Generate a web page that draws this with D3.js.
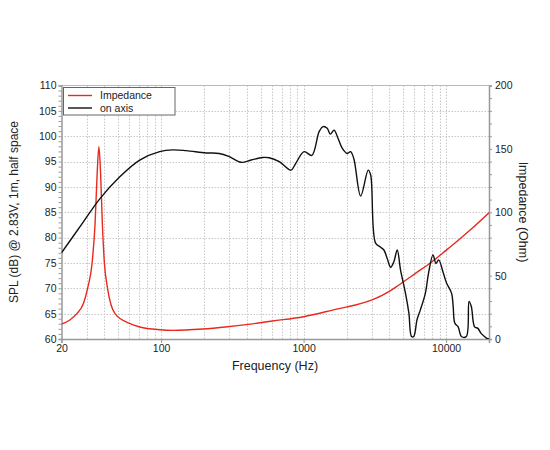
<!DOCTYPE html>
<html>
<head>
<meta charset="utf-8">
<script src="https://cdn.jsdelivr.net/npm/d3@7"></script>
<style>
  body { margin: 0; background: #fff; }
  text { font-family: "Liberation Sans", Arial, sans-serif; fill: #222; }
</style>
</head>
<body>
<div id="chart"></div>
<script>
// SPL on axis (Hz, dB)
var splFreq = [20, 28, 37, 51.3, 70.8, 97.7, 121, 150, 207, 256, 301, 364, 428, 515, 573, 675, 815, 881,
  1009, 1142, 1285, 1370, 1465, 1540, 1637, 1726, 1870, 2024, 2135, 2250, 2514, 2840, 2955, 3200, 3470, 3660, 3860,
  4080, 4300, 4540, 4790, 5190, 5480, 5720, 5930, 6250, 6590, 7150, 7530, 8090, 8490, 8870, 9560, 10090, 10930,
  11210, 11520, 12150, 12800, 13870, 14490, 15030, 15850, 16710, 17600, 18550, 19300, 20000];
var splDb = [77.0, 82.8, 87.6, 92.0, 95.3, 96.95, 97.3, 97.15, 96.7, 96.6, 95.96, 94.85, 95.3, 95.8, 95.75, 94.97, 93.3, 94.65,
  96.95, 96.2, 100.9, 101.9, 101.55, 100.4, 101.2, 99.9, 97.6, 96.6, 96.95, 95.6, 88.2, 93.3, 92.35, 78.9, 78.1, 77.55, 75.9,
  74.15, 75.25, 77.55, 73.6, 69.0, 65.1, 60.5, 60.5, 63.8, 65.7, 69.0, 73.0, 76.6, 74.9, 75.6, 73.0, 71.0, 69.0,
  66.4, 63.1, 62.4, 60.5, 60.5, 67.4, 66.4, 62.4, 62.1, 61.1, 60.5, 60.1, 60.0];

// Impedance (Hz, Ohm)
var impFreq = [20, 22.9, 25.6, 28.5, 30.5, 32.8, 34.4, 35.6, 36.6, 37.6, 38.7, 40, 42.1, 47.5, 60, 70.8, 98, 121, 196, 293, 394, 605,
  1000, 1773, 2310, 3028, 3966, 4660, 6096, 7962, 9886, 12240, 15160, 20000];
var impOhm = [11.8, 15.0, 20.0, 28, 40, 60, 91, 131, 151.7, 131, 91, 60, 40, 20, 12.3, 9.5, 7.3, 6.8, 7.9, 9.7, 11.3, 14.2,
  17.6, 24.0, 26.8, 30.8, 37.3, 42.6, 51.8, 61.0, 69.5, 78.1, 87.1, 99.6];

var xTickLabels = [20, 100, 1000, 10000];
var leftTicks = [60, 65, 70, 75, 80, 85, 90, 95, 100, 105, 110];
var rightTicks = [0, 50, 100, 150, 200];
var legendNames = ["Impedance", "on axis"];

var width = 550, height = 450;
var plotLeft = 61.5, plotRight = 489, plotTop = 85.5, plotBottom = 339;

var svg = d3.select("#chart").append("svg")
    .attr("width", width)
    .attr("height", height)
    .style("background", "#fff");

var x = d3.scaleLog().domain([20, 20000]).range([plotLeft, plotRight]);
var y = d3.scaleLinear().domain([60, 110]).range([plotBottom, plotTop]);
var yImp = d3.scaleLinear().domain([0, 200]).range([plotBottom, plotTop]);

// grid lines at every 1..9 x decade
var gridFreqs = [];
[10, 100, 1000, 10000].forEach(function(d) {
    for (var m = 1; m < 10; m++) {
        var f = d * m;
        if (f > 20 && f < 20000) gridFreqs.push(f);
    }
});

var grid = svg.append("g").attr("stroke", "#c8c8c8").attr("stroke-dasharray", "1.5,1.5").attr("stroke-width", 1);
grid.selectAll("line.v").data(gridFreqs).enter().append("line")
    .attr("x1", d => Math.round(x(d)) + 0.5).attr("x2", d => Math.round(x(d)) + 0.5)
    .attr("y1", plotTop).attr("y2", plotBottom);
grid.selectAll("line.h").data(d3.range(65, 110, 5)).enter().append("line")
    .attr("x1", plotLeft).attr("x2", plotRight)
    .attr("y1", d => Math.round(y(d)) + 0.5).attr("y2", d => Math.round(y(d)) + 0.5);

// frame top
svg.append("line").attr("x1", plotLeft).attr("x2", plotRight).attr("y1", plotTop).attr("y2", plotTop)
    .attr("stroke", "#bbb");

// axes
var leftAxis = d3.axisLeft(y).tickValues(d3.range(60, 111, 1)).tickSize(3)
    .tickFormat(d => leftTicks.indexOf(d) >= 0 ? d : "");
var gl = svg.append("g").attr("transform", "translate(" + plotLeft + ",0)").call(leftAxis);

var rightAxis = d3.axisRight(yImp).tickValues(d3.range(0, 201, 10)).tickSize(3)
    .tickFormat(d => rightTicks.indexOf(d) >= 0 ? d : "");
var gr = svg.append("g").attr("transform", "translate(" + plotRight + ",0)").call(rightAxis);

var bottomAxis = d3.axisBottom(x).tickValues(xTickLabels).tickSize(4).tickFormat(d3.format("d"));
var gb = svg.append("g").attr("transform", "translate(0," + plotBottom + ")").call(bottomAxis);

[gl, gr, gb].forEach(function(g) {
    g.select(".domain").attr("stroke", "#999").attr("stroke-width", 1.5);
    g.selectAll(".tick line").attr("stroke", "#999");
    g.selectAll(".tick text").attr("font-size", 10.5).attr("fill", "#222")
        .attr("font-family", "Liberation Sans, Arial, sans-serif");
});
gl.selectAll(".tick text").attr("x", -5);
gr.selectAll(".tick text").attr("x", 6);
gb.selectAll(".tick text").attr("y", 6);

// curves
svg.append("clipPath").attr("id", "plotclip").append("rect")
    .attr("x", plotLeft).attr("y", plotTop - 1).attr("width", plotRight - plotLeft).attr("height", plotBottom - plotTop + 1);

var splLine = d3.line()
    .x((d, i) => x(splFreq[i]))
    .y(d => y(d))
    .curve(d3.curveCatmullRom.alpha(0.5));

var impLine = d3.line()
    .x((d, i) => x(impFreq[i]))
    .y(d => yImp(d))
    .curve(d3.curveMonotoneX);

svg.append("path").datum(impOhm)
    .attr("d", impLine)
    .attr("clip-path", "url(#plotclip)")
    .attr("fill", "none").attr("stroke", "#e8291f").attr("stroke-width", 1.4);

svg.append("path").datum(splDb)
    .attr("d", splLine)
    .attr("clip-path", "url(#plotclip)")
    .attr("fill", "none").attr("stroke", "#111").attr("stroke-width", 1.4);

// legend
var legend = svg.append("g");
legend.append("rect").attr("x", 63.5).attr("y", 87.5).attr("width", 111.5).attr("height", 27.5)
    .attr("fill", "#fff").attr("stroke", "#666");
var colors = ["#e8291f", "#111"];
legendNames.forEach(function(n, i) {
    var ly = 95.5 + i * 12.5;
    legend.append("line").attr("x1", 68).attr("x2", 92).attr("y1", ly).attr("y2", ly)
        .attr("stroke", colors[i]).attr("stroke-width", 1.4);
    legend.append("text").attr("x", 100).attr("y", ly).attr("dy", "0.35em")
        .attr("font-size", 10.5).text(n);
});

// axis titles
svg.append("text").attr("x", 275).attr("y", 370).attr("text-anchor", "middle")
    .attr("font-size", 12.5).text("Frequency (Hz)");
svg.append("text").attr("transform", "translate(18,212) rotate(-90)").attr("text-anchor", "middle")
    .attr("font-size", 12).text("SPL (dB) @ 2.83V, 1m, half space");
svg.append("text").attr("transform", "translate(519,212) rotate(90)").attr("text-anchor", "middle")
    .attr("font-size", 12.5).text("Impedance (Ohm)");
</script>
</body>
</html>
